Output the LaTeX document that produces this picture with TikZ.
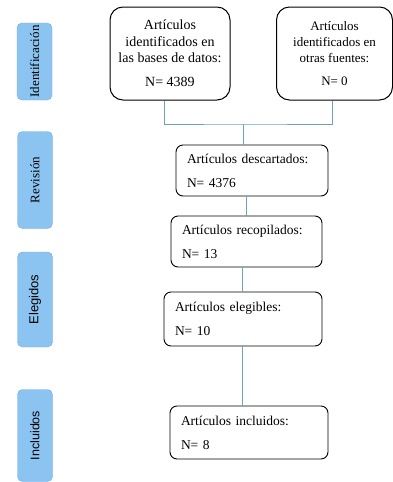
\documentclass[tikz,border=0pt]{standalone}
\usepackage{fontspec}
\setmainfont{Liberation Serif}
\setsansfont{Liberation Sans}
\definecolor{faseazul}{RGB}{140,196,241}
\definecolor{fasebordo}{RGB}{112,170,226}
\definecolor{enlaceazul}{RGB}{112,160,186}
\tikzset{
  fase/.style={draw=fasebordo, fill=faseazul, rounded corners=5pt, rotate=90, minimum height=35pt, inner sep=0pt},
  fuente/.style={draw, line width=1pt, rounded corners=13pt, align=center, minimum height=93pt, inner sep=0pt},
  paso/.style={draw, line width=0.9pt, rounded corners=7pt, align=left, inner xsep=11pt, inner ysep=0pt,
    font=\fontsize{13.5}{15}\selectfont},
  enlace/.style={draw=enlaceazul, line width=0.9pt}
}
\begin{document}
\begin{tikzpicture}[x=1pt, y=-1pt]
		\useasboundingbox (0,0) rectangle (393,482);
		% Fases (columna izquierda)
		\node[fase, minimum width=77pt, font=\fontsize{13}{15}\selectfont] (fIdent) at (34.5,61.5) {Identificación};
		\node[fase, minimum width=97pt, font=\fontsize{13}{15}\selectfont] (fRev) at (35,180) {Revisión};
		\node[fase, minimum width=95pt, font=\sffamily\fontsize{13}{15}\selectfont] (fEleg) at (35,299.5) {Elegidos};
		\node[fase, minimum width=92pt, font=\sffamily\fontsize{12.5}{15}\selectfont] (fIncl) at (35,435.5) {Incluidos};
		
		% Fuentes de los artículos
		\node[fuente, minimum width=120pt, font=\fontsize{14}{16.5}\selectfont] (bases) at (170,53.5)
			{Artículos\\identificados en\\las bases de datos:\\[7.5pt]N= 4389};
		\node[fuente, minimum width=116pt, font=\fontsize{13}{16}\selectfont] (otras) at (334.5,53.5)
			{Artículos\\identificados en\\otras fuentes:\\[7pt]N= 0};
		\coordinate (junta) at (243,124);
		
		% Pasos de la revisión
		\node[paso, text width=130pt, minimum height=51pt] (descart) at (252,170.5) {Artículos descartados:\\[9pt]N= 4376};
		\node[paso, text width=129pt, minimum height=51pt] (recop) at (246.5,241.5) {Artículos recopilados:\\[9pt]N= 13};
		\node[paso, text width=136pt, minimum height=54pt] (elegib) at (243,319) {Artículos elegibles:\\[9pt]N= 10};
		\node[paso, text width=136pt, minimum height=53pt] (incl) at (249,432.5) {Artículos incluidos:\\[9pt]N= 8};
		
		% Conectores
		\draw[enlace] ([xshift=-6pt]bases.south) |- (junta) -| ([xshift=-2.5pt]otras.south);
		\draw[enlace] (junta) -- (junta |- descart.north);
		\draw[enlace] (descart.south -| 246,0) -- (recop.north -| 246,0);
		\draw[enlace] (recop.south -| 242,0) -- (elegib.north -| 242,0);
		\draw[enlace] (elegib.south -| 242,0) -- (incl.north -| 242,0);
	\end{tikzpicture}
\end{document}
